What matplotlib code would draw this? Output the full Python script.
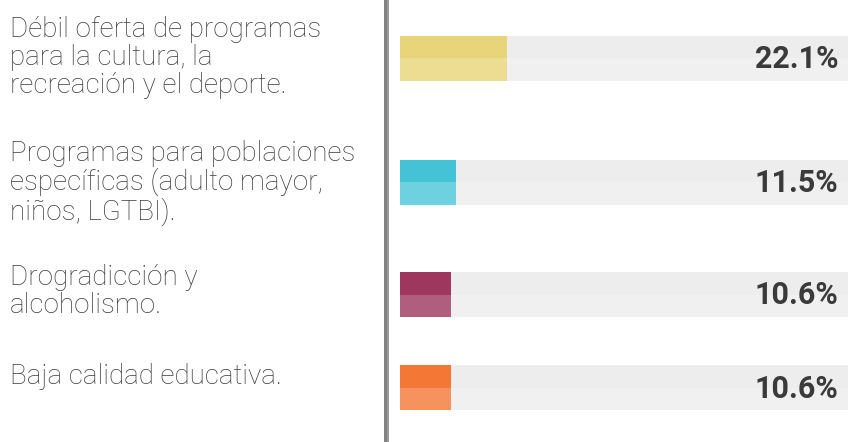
import matplotlib.pyplot as plt
from matplotlib.patches import Rectangle

labels = ["Débil oferta de programas\npara la cultura, la\nrecreación y el deporte.",
          "Programas para poblaciones\nespecíficas (adulto mayor,\nniños, LGTBI).",
          "Drogradicción y\nalcoholismo.",
          "Baja calidad educativa."]
values = [22.1, 11.5, 10.6, 10.6]
dark = ["#E8D57A", "#45C3D6", "#9E365E", "#F37735"]
light = ["#EDDD93", "#6DD1DF", "#B05E7E", "#F6925E"]

# layout (pixels from top)
bar_y = [58, 182, 294.5, 387.5]
label_y = [57.5, 183, 291.5, 377]
bar_h = 45
W, H = 848, 442
scale = 4.85  # px per percent

fig = plt.figure(figsize=(W / 100, H / 100), dpi=100)
ax = fig.add_axes([400 / W, 0, 448 / W, 1])
ax.set_xlim(0, 448 / scale)
ax.set_ylim(H, 0)
ax.axis('off')

full = 448 / scale
for i, v in enumerate(values):
    y = bar_y[i]
    ax.barh(y - bar_h / 4, full, height=bar_h / 2, color="#EDEDED", left=0)
    ax.barh(y + bar_h / 4, full, height=bar_h / 2, color="#F0F0F0", left=0)
    ax.barh(y - bar_h / 4, v, height=bar_h / 2, color=dark[i])
    ax.barh(y + bar_h / 4, v, height=bar_h / 2, color=light[i])
    ax.text(full - 10 / scale, y + 1, f"{v}%", ha='right', va='center',
            fontsize=22, fontweight='bold', color="#3A3A3A", family='Roboto')

for i, lab in enumerate(labels):
    fig.text(10 / W, 1 - label_y[i] / H, lab, ha='left', va='center',
             fontsize=20, color="#3C3C3C", family='Roboto', fontweight='light',
             linespacing=1.03)

fig.add_artist(Rectangle((384 / W, 0), 3 / W, 1, transform=fig.transFigure,
                         color="#828282", lw=0))
fig.add_artist(Rectangle((387 / W, 0), 2 / W, 1, transform=fig.transFigure,
                         color="#9A9A9A", lw=0))

fig.savefig("out.png", dpi=100)
